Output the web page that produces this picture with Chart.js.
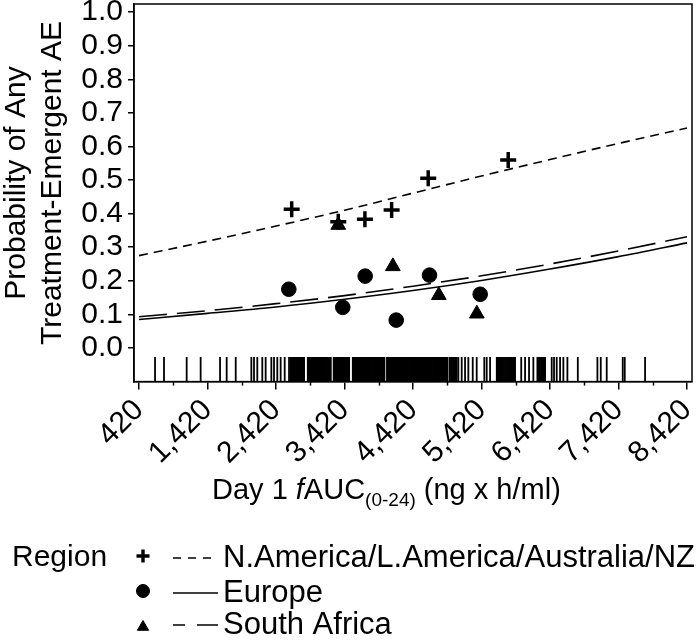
<!DOCTYPE html>
<html>
<head>
<meta charset="utf-8">
<script src="https://cdn.jsdelivr.net/npm/chart.js@4.4.1/dist/chart.umd.min.js"></script>
<style>
  html, body { margin: 0; padding: 0; background: #fff; }
  #wrap { width: 700px; height: 640px; }
</style>
</head>
<body>
<div id="wrap"><canvas id="chart_ae" width="700" height="640"></canvas></div>
<script>
// x ticks (labelled every 1000, minor marks halfway)
const xTickValues = [420, 1420, 2420, 3420, 4420, 5420, 6420, 7420, 8420];
const xMinorTicks = [920, 1920, 2920, 3920, 4920, 5920, 6920, 7920];
const yTickValues = [0, 0.1, 0.2, 0.3, 0.4, 0.5, 0.6, 0.7, 0.8, 0.9, 1.0];

// observed proportions by region
const naX = [2649, 3329, 3718, 4108, 4642, 5810];
const naY = [0.413, 0.376, 0.383, 0.411, 0.505, 0.560];
const euX = [2607, 3395, 3722, 4175, 4661, 5401];
const euY = [0.175, 0.121, 0.214, 0.083, 0.217, 0.160];
const saX = [3329, 4126, 4797, 5352];
const saY = [0.366, 0.243, 0.157, 0.102];

// model curves
const curveX = [420, 1420, 2420, 3420, 4420, 5420, 6420, 7420, 8420];
const naCurve = [0.275, 0.318, 0.363, 0.410, 0.461, 0.512, 0.561, 0.609, 0.655];
const euCurve = [0.085, 0.103, 0.122, 0.145, 0.171, 0.201, 0.235, 0.272, 0.313];
const saCurve = [0.093, 0.111, 0.132, 0.156, 0.184, 0.215, 0.250, 0.289, 0.331];

// individual exposures (rug)
const rugX = [
  654, 785, 1116, 1320, 1603, 1700, 1832, 2060, 2099, 2147, 2220, 2269, 2352, 2391, 2439, 2488, 2547, 2610,
  2634, 2648, 2662, 2676, 2690, 2704, 2718, 2732, 2746, 2760, 2774, 2788, 2802, 2816, 2830,
  2884, 2898, 2912, 2926, 2940, 2954, 2968, 2982, 2996, 3010, 3024, 3038, 3052, 3066, 3080, 3094,
  3108, 3122, 3136, 3150, 3164, 3178, 3192, 3206, 3220,
  3262, 3276, 3290, 3304, 3318, 3332, 3346, 3360, 3374, 3388, 3402, 3416, 3430, 3444, 3458, 3472, 3488,
  3541, 3555, 3569, 3583, 3597, 3611, 3625, 3639, 3653, 3667, 3681, 3695, 3709, 3723, 3737, 3751,
  3765, 3779, 3793, 3807, 3821, 3835, 3849, 3863, 3877, 3891, 3905, 3919, 3933, 3947, 3961, 3975,
  3989, 4003,
  4040, 4054, 4068, 4082, 4096, 4110, 4124, 4138, 4152, 4166, 4180, 4194, 4208, 4222, 4236, 4250,
  4264, 4278, 4292, 4306, 4320, 4334, 4348, 4362, 4376, 4390, 4404, 4418, 4432, 4446, 4460, 4474,
  4488, 4502, 4516, 4530, 4544, 4558, 4572, 4586, 4600, 4614, 4628, 4642, 4656, 4670, 4684, 4698,
  4712, 4726, 4740, 4754, 4768, 4782, 4796, 4810, 4824, 4838, 4852, 4866, 4880, 4894, 4908, 4920,
  4952, 4966, 4980, 4994, 5008, 5022, 5036, 5058, 5082, 5131, 5180, 5228, 5292, 5350, 5461, 5496, 5545,
  5643, 5658, 5673, 5688, 5703, 5718, 5733, 5748, 5763, 5778, 5793, 5808, 5823, 5838, 5853, 5868, 5883, 5898, 5910,
  6000, 6056, 6114, 6177, 6236, 6251, 6266, 6281, 6296, 6311, 6326, 6341, 6348,
  6445, 6479, 6518, 6567, 6615, 6674, 6826, 7112, 7161, 7248, 7482, 7511, 7808
];
const rugY = -0.0634;

const legendItems = [
  { label: 'N.America/L.America/Australia/NZ', style: 'cross', dash: [8, 7], offset: 0 },
  { label: 'Europe', style: 'circle', dash: [], offset: 0 },
  { label: 'South Africa', style: 'triangle', dash: [26, 12], offset: 14 },
];

const FONT = "'Liberation Sans', Arial, sans-serif";
Chart.defaults.font.family = FONT;
Chart.defaults.color = '#000';

const toPoints = (xs, ys) => xs.map((x, i) => ({ x: x, y: ys[i] }));

const decor = {
  id: 'decor',
  afterDraw(chart) {
    const { ctx, chartArea: a, scales: { x } } = chart;
    ctx.save();
    // frame
    ctx.strokeStyle = '#000';
    ctx.lineWidth = 1.5;
    ctx.strokeRect(a.left, a.top, a.right - a.left, a.bottom - a.top);
    // minor x ticks
    xMinorTicks.forEach(v => {
      const px = Math.round(x.getPixelForValue(v)) + 0.5;
      ctx.beginPath();
      ctx.moveTo(px, a.bottom);
      ctx.lineTo(px, a.bottom + 4);
      ctx.stroke();
    });

    // y title, two lines
    ctx.fillStyle = '#000';
    ctx.font = '30px ' + FONT;
    ctx.textAlign = 'center';
    ctx.textBaseline = 'alphabetic';
    [['Probability of Any', 25], ['Treatment-Emergent AE', 61]].forEach(([t, bx]) => {
      ctx.save();
      ctx.translate(bx, 183);
      ctx.rotate(-Math.PI / 2);
      ctx.fillText(t, 0, 0);
      ctx.restore();
    });

    // x title with italic f and subscript
    const parts = [
      { t: 'Day 1 ', f: '29px ' + FONT, dy: 0 },
      { t: 'f', f: 'italic 29px ' + FONT, dy: 0 },
      { t: 'AUC', f: '29px ' + FONT, dy: 0 },
      { t: '(0-24)', f: '19px ' + FONT, dy: 7 },
      { t: ' (ng x h/ml)', f: '29px ' + FONT, dy: 0 },
    ];
    ctx.textAlign = 'left';
    let cx = 212;
    parts.forEach(p => {
      ctx.font = p.f;
      ctx.fillText(p.t, cx, 499 + p.dy);
      cx += ctx.measureText(p.t).width;
    });

    // legend
    ctx.font = '30px ' + FONT;
    ctx.textBaseline = 'middle';
    ctx.fillText('Region', 12, 558);
    ctx.font = '31px ' + FONT;
    legendItems.forEach((it, i) => {
      const cy = [558, 593, 625][i];
      ctx.fillStyle = '#000';
      ctx.strokeStyle = '#000';
      const r = it.style === 'cross' ? 6.5 : 6.5;
      ctx.lineWidth = it.style === 'cross' ? 3.4 : 1;
      Chart.helpers.drawPoint(ctx, { pointStyle: it.style, radius: r, borderWidth: ctx.lineWidth, rotation: 0 },
        143, it.style === 'triangle' ? cy + 2 : cy - 2);
      ctx.lineWidth = 1.5;
      ctx.setLineDash(it.dash);
      ctx.lineDashOffset = it.offset;
      ctx.beginPath();
      ctx.moveTo(173, cy);
      ctx.lineTo(218, cy);
      ctx.stroke();
      ctx.setLineDash([]);
      ctx.fillText(it.label, 223, cy);
    });
    ctx.restore();
  }
};

new Chart(document.getElementById('chart_ae'), {
  type: 'scatter',
  data: {
    datasets: [
      {
        label: 'rug',
        data: rugX.map(v => ({ x: v, y: rugY })),
        pointStyle: 'line',
        rotation: 90,
        pointRadius: 12.3,
        borderColor: '#000',
        pointBorderColor: '#000',
        pointBorderWidth: 1.8,
        borderWidth: 1.8,
      },
      {
        label: 'NA curve',
        data: toPoints(curveX, naCurve),
        showLine: true,
        borderColor: '#000',
        borderWidth: 1.6,
        borderDash: [9, 6],
        pointRadius: 0,
        cubicInterpolationMode: 'monotone',
      },
      {
        label: 'Europe curve',
        data: toPoints(curveX, euCurve),
        showLine: true,
        borderColor: '#000',
        borderWidth: 1.6,
        pointRadius: 0,
        cubicInterpolationMode: 'monotone',
      },
      {
        label: 'SA curve',
        data: toPoints(curveX, saCurve),
        showLine: true,
        borderColor: '#000',
        borderWidth: 1.6,
        borderDash: [28, 10],
        pointRadius: 0,
        cubicInterpolationMode: 'monotone',
      },
      {
        label: 'N.America/L.America/Australia/NZ',
        data: toPoints(naX, naY),
        pointStyle: 'cross',
        pointRadius: 8,
        pointBorderWidth: 3.5,
        borderColor: '#000',
        backgroundColor: '#000',
      },
      {
        label: 'Europe',
        data: toPoints(euX, euY),
        pointStyle: 'circle',
        pointRadius: 7.3,
        pointBorderWidth: 1,
        borderColor: '#000',
        backgroundColor: '#000',
      },
      {
        label: 'South Africa',
        data: toPoints(saX, saY),
        pointStyle: 'triangle',
        pointRadius: 8.5,
        pointBorderWidth: 1,
        borderColor: '#000',
        backgroundColor: '#000',
      },
    ],
  },
  options: {
    responsive: false,
    devicePixelRatio: 1,
    animation: false,
    events: [],
    layout: { autoPadding: false, padding: { left: 0, right: 8, top: 4, bottom: 0 } },
    plugins: {
      legend: { display: false },
      tooltip: { enabled: false },
    },
    scales: {
      x: {
        type: 'linear',
        min: 347,
        max: 8493,
        afterBuildTicks: (scale) => { scale.ticks = xTickValues.map(v => ({ value: v })); },
        afterFit: (scale) => { scale.height = 258.4; scale.paddingLeft = 0; scale.paddingRight = 0; },
        ticks: {
          autoSkip: false,
          maxRotation: 45,
          minRotation: 45,
          padding: 3,
          color: '#000',
          font: { size: 30 },
          callback: (v) => Number(v).toLocaleString('en-US'),
        },
        grid: { display: true, drawOnChartArea: false, drawTicks: true, tickLength: 8, color: '#000', lineWidth: 1.5 },
        border: { display: true, color: '#000', width: 1.5 },
      },
      y: {
        type: 'linear',
        min: -0.1,
        max: 1.024,
        afterBuildTicks: (scale) => { scale.ticks = yTickValues.map(v => ({ value: v })); },
        afterFit: (scale) => { scale.width = 134; scale.paddingTop = 0; scale.paddingBottom = 0; },
        ticks: {
          autoSkip: false,
          padding: 5,
          color: '#000',
          font: { size: 30, lineHeight: 1 },
          callback: (v) => Number(v).toFixed(1),
        },
        grid: { display: true, drawOnChartArea: false, drawTicks: true, tickLength: 6, color: '#000', lineWidth: 1.5 },
        border: { display: true, color: '#000', width: 1.5 },
      },
    },
  },
  plugins: [decor],
});
</script>
</body>
</html>
